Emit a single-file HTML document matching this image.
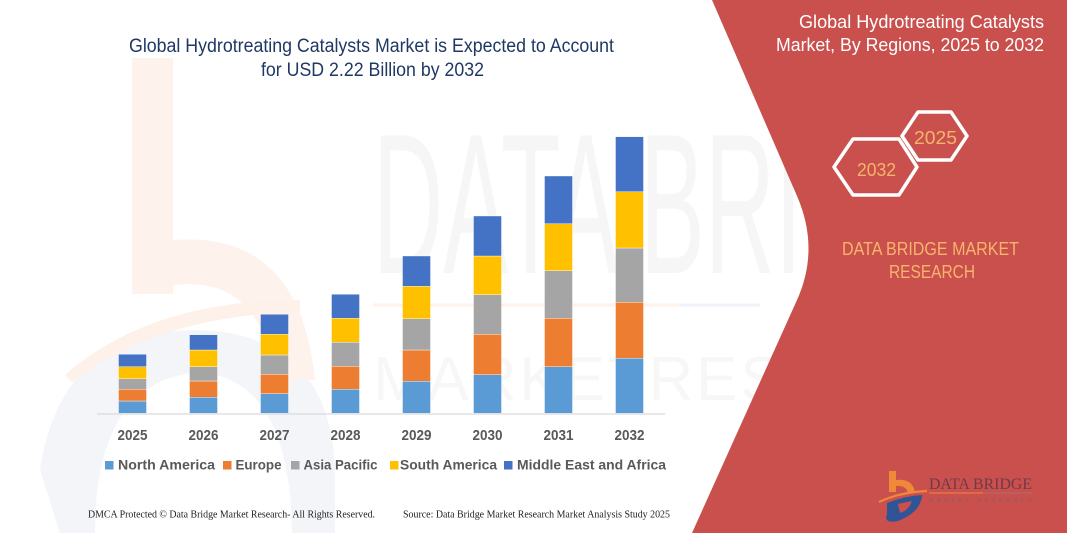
<!DOCTYPE html>
<html>
<head>
<meta charset="utf-8">
<style>
  html,body{margin:0;padding:0;background:#fff;}
  body{width:1067px;height:533px;overflow:hidden;}
  svg{display:block;}
  .sans{font-family:"Liberation Sans", Arial, sans-serif;}
  .serif{font-family:"Liberation Serif", "Times New Roman", serif;}
</style>
</head>
<body>
<svg width="1067" height="533" viewBox="0 0 1067 533" xmlns="http://www.w3.org/2000/svg">
  <rect x="0" y="0" width="1067" height="533" fill="#ffffff"/>

  <!-- faint watermark logo (left) -->
  <g opacity="1">
    <path d="M40,470 Q60,330 200,330 Q330,335 335,470 L335,533 L60,533 Z" fill="#f3f5f9"/>
    <path d="M95,533 Q95,380 200,372 Q290,380 292,533 Z" fill="#ffffff"/>
    <rect x="132" y="58" width="41" height="236" fill="#fdf3ec"/>
    <path d="M173,240 Q300,230 315,380 L275,380 Q262,275 173,285 Z" fill="#fdf3ec"/>
    <path d="M65,375 Q150,300 300,300 L300,312 Q160,315 72,382 Z" fill="#fdf1e9"/>
  </g>
  <!-- faint watermark text -->
  <text x="373" y="273" class="sans" font-size="200" fill="#f6f6f6" textLength="640" lengthAdjust="spacingAndGlyphs">DATA BRIDGE</text>
  <line x1="373" y1="305" x2="680" y2="305" stroke="#fdf1ea" stroke-width="3"/>
  <line x1="680" y1="305" x2="760" y2="305" stroke="#f1f3f8" stroke-width="3"/>
  <text x="373" y="400" class="sans" font-size="62" fill="#f7f7f7" textLength="640" lengthAdjust="spacing">MARKETRESEARCH</text>

  <!-- red panel -->
  <path d="M712,0 L797,196 Q820,249 797,300 L692,533 L1067,533 L1067,0 Z" fill="#c9504d"/>

  <!-- main title -->
  <text x="129" y="52" class="sans" font-size="19" fill="#1f3864" textLength="485" lengthAdjust="spacingAndGlyphs">Global Hydrotreating Catalysts Market is Expected to Account</text>
  <text x="261" y="76" class="sans" font-size="19" fill="#1f3864" textLength="223" lengthAdjust="spacingAndGlyphs">for USD 2.22 Billion by 2032</text>

  <!-- right title -->
  <text x="799" y="28" class="sans" font-size="18" fill="#ffffff" textLength="245" lengthAdjust="spacingAndGlyphs">Global Hydrotreating Catalysts</text>
  <text x="776" y="51" class="sans" font-size="18" fill="#ffffff" textLength="268" lengthAdjust="spacingAndGlyphs">Market, By Regions, 2025 to 2032</text>

  <!-- hexagons -->
  <path d="M902,136 L918,112 L951,112 L967,136 L951,160 L918,160 Z" fill="none" stroke="#ffffff" stroke-width="3.5" stroke-linejoin="round"/>
  <path d="M834,167 L853,139 L899,139 L917,167 L899,195 L853,195 Z" fill="none" stroke="#ffffff" stroke-width="3.5" stroke-linejoin="round"/>
  <text x="914" y="144" class="sans" font-size="18" fill="#f6b46c" textLength="43" lengthAdjust="spacingAndGlyphs">2025</text>
  <text x="857" y="176" class="sans" font-size="18" fill="#f6b46c" textLength="39" lengthAdjust="spacingAndGlyphs">2032</text>

  <!-- DATA BRIDGE MARKET RESEARCH -->
  <text x="842" y="255" class="sans" font-size="18" fill="#f7b46c" textLength="177" lengthAdjust="spacingAndGlyphs">DATA BRIDGE MARKET</text>
  <text x="889" y="278" class="sans" font-size="18" fill="#f7b46c" textLength="86" lengthAdjust="spacingAndGlyphs">RESEARCH</text>

  <!-- bars -->
  <g stroke="#ffffff" stroke-width="0.4">
    <!-- 2025 -->
    <rect x="118.5" y="401" width="28" height="12.3" fill="#5b9bd5"/>
    <rect x="118.5" y="389.3" width="28" height="11.7" fill="#ed7d31"/>
    <rect x="118.5" y="378.7" width="28" height="10.6" fill="#a5a5a5"/>
    <rect x="118.5" y="366.7" width="28" height="12" fill="#ffc000"/>
    <rect x="118.5" y="354.3" width="28" height="12.4" fill="#4472c4"/>
    <!-- 2026 -->
    <rect x="189.5" y="397.3" width="28" height="16" fill="#5b9bd5"/>
    <rect x="189.5" y="381" width="28" height="16.3" fill="#ed7d31"/>
    <rect x="189.5" y="366.7" width="28" height="14.3" fill="#a5a5a5"/>
    <rect x="189.5" y="350" width="28" height="16.7" fill="#ffc000"/>
    <rect x="189.5" y="334.7" width="28" height="15.3" fill="#4472c4"/>
    <!-- 2027 -->
    <rect x="260.5" y="393.7" width="28" height="19.6" fill="#5b9bd5"/>
    <rect x="260.5" y="374.3" width="28" height="19.4" fill="#ed7d31"/>
    <rect x="260.5" y="355" width="28" height="19.3" fill="#a5a5a5"/>
    <rect x="260.5" y="334.3" width="28" height="20.7" fill="#ffc000"/>
    <rect x="260.5" y="314.3" width="28" height="20" fill="#4472c4"/>
    <!-- 2028 -->
    <rect x="331.5" y="389.3" width="28" height="24" fill="#5b9bd5"/>
    <rect x="331.5" y="366.3" width="28" height="23" fill="#ed7d31"/>
    <rect x="331.5" y="342.3" width="28" height="24" fill="#a5a5a5"/>
    <rect x="331.5" y="318.3" width="28" height="24" fill="#ffc000"/>
    <rect x="331.5" y="294.3" width="28" height="24" fill="#4472c4"/>
    <!-- 2029 -->
    <rect x="402.5" y="381.3" width="28" height="32" fill="#5b9bd5"/>
    <rect x="402.5" y="350" width="28" height="31.3" fill="#ed7d31"/>
    <rect x="402.5" y="318.7" width="28" height="31.3" fill="#a5a5a5"/>
    <rect x="402.5" y="286.3" width="28" height="32.4" fill="#ffc000"/>
    <rect x="402.5" y="256" width="28" height="30.3" fill="#4472c4"/>
    <!-- 2030 -->
    <rect x="473.5" y="374.7" width="28" height="38.6" fill="#5b9bd5"/>
    <rect x="473.5" y="334.3" width="28" height="40.4" fill="#ed7d31"/>
    <rect x="473.5" y="294.7" width="28" height="39.6" fill="#a5a5a5"/>
    <rect x="473.5" y="256" width="28" height="38.7" fill="#ffc000"/>
    <rect x="473.5" y="216" width="28" height="40" fill="#4472c4"/>
    <!-- 2031 -->
    <rect x="544.5" y="366.7" width="28" height="46.6" fill="#5b9bd5"/>
    <rect x="544.5" y="318.3" width="28" height="48.4" fill="#ed7d31"/>
    <rect x="544.5" y="270.7" width="28" height="47.6" fill="#a5a5a5"/>
    <rect x="544.5" y="223.7" width="28" height="47" fill="#ffc000"/>
    <rect x="544.5" y="176" width="28" height="47.7" fill="#4472c4"/>
    <!-- 2032 -->
    <rect x="615.5" y="358.3" width="28" height="55" fill="#5b9bd5"/>
    <rect x="615.5" y="302.3" width="28" height="56" fill="#ed7d31"/>
    <rect x="615.5" y="248" width="28" height="54.3" fill="#a5a5a5"/>
    <rect x="615.5" y="191.7" width="28" height="56.3" fill="#ffc000"/>
    <rect x="615.5" y="136.7" width="28" height="55" fill="#4472c4"/>
  </g>

  <!-- axis -->
  <line x1="97" y1="414" x2="665" y2="414" stroke="#d9d9d9" stroke-width="1.2"/>

  <!-- year labels -->
  <g class="sans" font-weight="bold" font-size="15" fill="#595959">
    <text x="117.5" y="440" textLength="30" lengthAdjust="spacingAndGlyphs">2025</text>
    <text x="188.5" y="440" textLength="30" lengthAdjust="spacingAndGlyphs">2026</text>
    <text x="259.5" y="440" textLength="30" lengthAdjust="spacingAndGlyphs">2027</text>
    <text x="330.5" y="440" textLength="30" lengthAdjust="spacingAndGlyphs">2028</text>
    <text x="401.5" y="440" textLength="30" lengthAdjust="spacingAndGlyphs">2029</text>
    <text x="472.5" y="440" textLength="30" lengthAdjust="spacingAndGlyphs">2030</text>
    <text x="543.5" y="440" textLength="30" lengthAdjust="spacingAndGlyphs">2031</text>
    <text x="614.5" y="440" textLength="30" lengthAdjust="spacingAndGlyphs">2032</text>
  </g>

  <!-- legend -->
  <rect x="105" y="461" width="8.5" height="8.5" fill="#5b9bd5"/>
  <rect x="223" y="461" width="8.5" height="8.5" fill="#ed7d31"/>
  <rect x="291" y="461" width="8.5" height="8.5" fill="#a5a5a5"/>
  <rect x="390" y="461" width="8.5" height="8.5" fill="#ffc000"/>
  <rect x="504" y="461" width="8.5" height="8.5" fill="#4472c4"/>
  <g class="sans" font-weight="bold" font-size="14" fill="#595959">
    <text x="118" y="469.5" textLength="97" lengthAdjust="spacingAndGlyphs">North America</text>
    <text x="235.5" y="469.5" textLength="46" lengthAdjust="spacingAndGlyphs">Europe</text>
    <text x="303.5" y="469.5" textLength="74" lengthAdjust="spacingAndGlyphs">Asia Pacific</text>
    <text x="400" y="469.5" textLength="97" lengthAdjust="spacingAndGlyphs">South America</text>
    <text x="517" y="469.5" textLength="149" lengthAdjust="spacingAndGlyphs">Middle East and Africa</text>
  </g>

  <!-- footer -->
  <g class="serif" font-size="10.5" fill="#222222">
    <text x="88" y="517.5" textLength="287" lengthAdjust="spacingAndGlyphs">DMCA Protected © Data Bridge Market Research-  All Rights Reserved.</text>
    <text x="403" y="517.5" textLength="267" lengthAdjust="spacingAndGlyphs">Source: Data Bridge Market Research  Market Analysis Study 2025</text>
  </g>

  <!-- bottom-right logo -->
  <g>
    <path d="M889,471 h7 v9 q17,-2 19,13 h-7 q-2,-8 -12,-7 v6 h-7 z" fill="#f0883a"/>
    <path d="M879,502 Q900,492 927,491" fill="none" stroke="#f0883a" stroke-width="2.2"/>
    <path d="M887,503 Q905,496 922,495 Q921,512 898,521 Q883,524 887,514 Z" fill="#2f5597"/>
    <path d="M898,504 Q907,502 912,501 Q909,510 900,513 Z" fill="#c9504d"/>
    <text x="929" y="489" class="serif" font-size="16" fill="#6e3a47" textLength="103" lengthAdjust="spacingAndGlyphs">DATA BRIDGE</text>
    <line x1="929" y1="493" x2="983" y2="493" stroke="#f0883a" stroke-width="1"/>
    <line x1="983" y1="493" x2="1032" y2="493" stroke="#a77070" stroke-width="1"/>
    <text x="929" y="502" class="sans" font-size="5.5" fill="#8c5c5c" textLength="103" lengthAdjust="spacing">MARKET RESEARCH</text>
  </g>
</svg>
</body>
</html>
